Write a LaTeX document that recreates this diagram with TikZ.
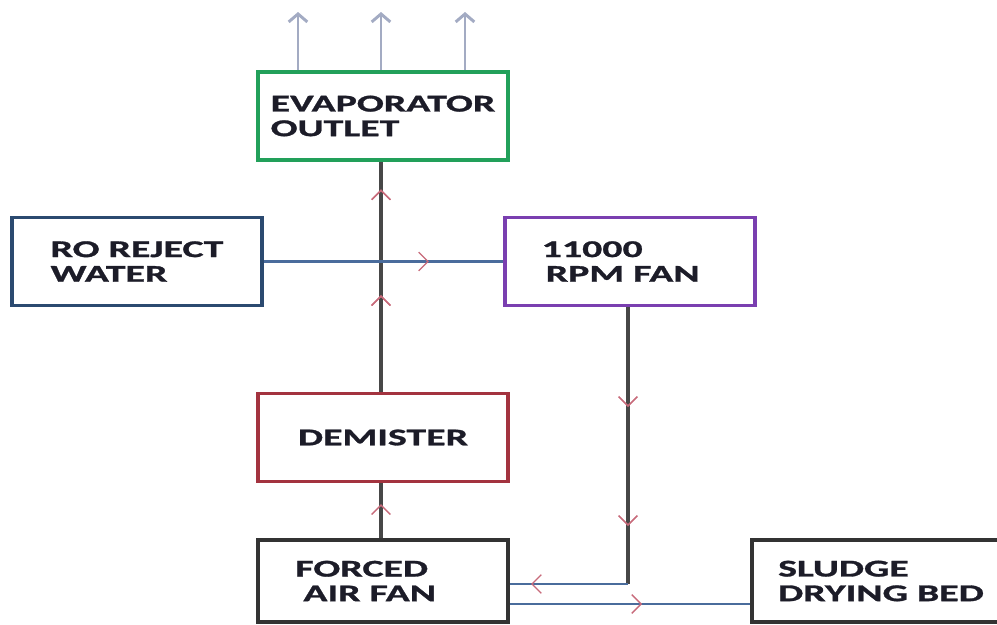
\documentclass[tikz,border=0pt]{standalone}
\usepackage{fontspec}
\newfontfamily\lbl{Carlito}[FakeStretch=1.66, BoldFeatures={FakeStretch=1.66, FakeBold=1.2}]
\usetikzlibrary{arrows.meta,decorations.markings}
\definecolor{cgreen}{HTML}{22A05A}
\definecolor{cblue}{HTML}{2B4A70}
\definecolor{cpurple}{HTML}{7A3FB0}
\definecolor{cred}{HTML}{A3333F}
\definecolor{cdark}{HTML}{333333}
\definecolor{cline}{HTML}{4A6C9C}
\definecolor{ctip}{HTML}{C86A7A}
\definecolor{cup}{HTML}{A3ABC3}
\definecolor{ctext}{HTML}{1C1C28}
\tikzset{
  box/.style={draw, line width=2.7pt, minimum width=187.5pt, minimum height=66pt, inner sep=0pt, align=left, text=ctext, font=\lbl\bfseries\fontsize{18}{18.5}\selectfont},
  thick line/.style={draw=cdark!90, line width=3pt},
  thin line/.style={draw=cline, line width=1.6pt},
  midtip/.style={postaction={decorate}, decoration={markings, mark=at position #1 with {\arrow[ctip, line width=1pt]{Straight Barb[length=7pt,width=14pt]}}}},
  uparrow/.style={draw=cup, line width=2.2pt, -{Straight Barb[length=6pt,width=14pt]}}
}
\begin{document}
\begin{tikzpicture}[x=0.75pt,y=-0.75pt]
\fill[white] (0,0) rectangle (997,625);
\useasboundingbox (0,0) rectangle (997,625);
\node[box, draw=cgreen] (evap) at (383,116) {EVAPORATOR\\OUTLET};
\node[box, draw=cblue] (ro) at (137,261.5) {RO REJECT\\WATER};
\node[box, draw=cpurple] (rpm) at (630,261.5) {11000\hspace*{14pt}\\\,RPM FAN\hspace*{14pt}};
\node[box, draw=cred] (dem) at (383,437.5) {DEMISTER};
\node[box, draw=cdark, minimum height=61.5pt] (fan) at (383,581) {FORCED\hspace*{26pt}\\\,\,AIR FAN\hspace*{26pt}};
\node[box, draw=cdark, minimum width=193.5pt, minimum height=61.5pt] (sludge) at (881,581) {SLUDGE\\DRYING BED};
% top outlet arrows
\coordinate (u1) at (298,12);
\coordinate (u2) at (381,12);
\coordinate (u3) at (465,12);
\draw[uparrow] (u1 |- evap.north) -- (u1);
\draw[uparrow] (u2 |- evap.north) -- (u2);
\draw[uparrow] (u3 |- evap.north) -- (u3);
% main vertical flow
\coordinate (x0) at (381,0);
\draw[thick line, midtip=0.62] (x0 |- fan.north) -- (x0 |- dem.south);
\draw[thick line, midtip=0.42, midtip=0.88] (x0 |- dem.north) -- (x0 |- evap.south);
% RO to fan
\draw[thin line, midtip=0.69] (ro.east) -- (rpm.west);
% fan down to forced air fan
\coordinate (c1) at (628,584);
\draw[thick line, midtip=0.36, midtip=0.79] (c1 |- rpm.south) -- (c1);
\draw[thin line, midtip=0.82] (c1) -- (c1 -| fan.east);
% to sludge bed
\coordinate (c2) at (0,604);
\draw[thin line, midtip=0.55] (c2 -| fan.east) -- (c2 -| sludge.west);
\end{tikzpicture}
\end{document}
